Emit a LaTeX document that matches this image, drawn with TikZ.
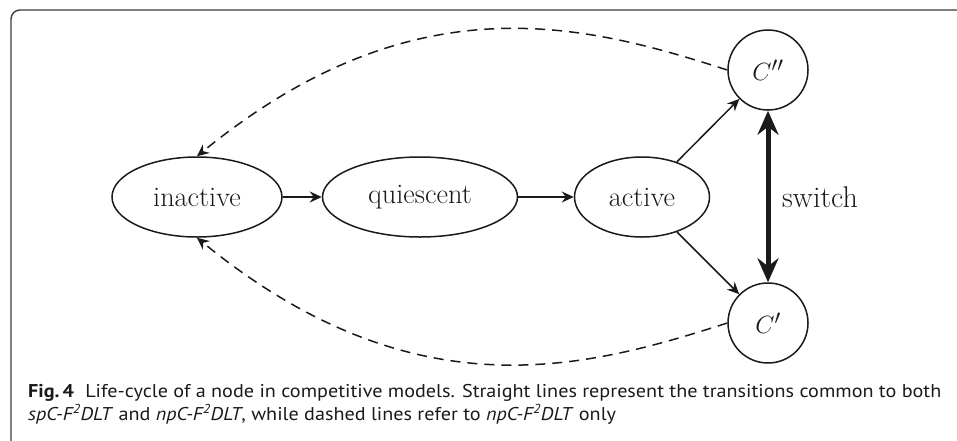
\documentclass[tikz,border=0pt]{standalone}
\usepackage{fontspec}
\newfontfamily\capfont{PT Sans}[FakeStretch=1.09]
\usetikzlibrary{arrows.meta,shapes.geometric}
\definecolor{ink}{HTML}{1A1A1A}
\tikzset{
  state/.style={ellipse,draw=ink,line width=1.5pt,inner sep=0pt,minimum height=80pt,
    font=\fontsize{28.3}{34}\selectfont,text=ink},
  cstate/.style={circle,draw=ink,line width=1.5pt,inner sep=0pt,minimum size=80pt,
    font=\fontsize{28.3}{34}\selectfont,text=ink},
  trans/.style={draw=ink,line width=1.5pt,-{Stealth[length=12pt,width=11pt,inset=4pt]}},
  back/.style={trans,dash pattern=on 10pt off 7pt},
  swt/.style={draw=ink,line width=5pt,{Stealth[length=24pt,width=21pt,inset=8pt]}-{Stealth[length=24pt,width=21pt,inset=8pt]}},
  capline/.style={anchor=base west,inner sep=0pt,font=\capfont\fontsize{18.5}{22}\selectfont,text=ink}
}
\begin{document}
\begin{tikzpicture}[x=1pt,y=-1pt]
\useasboundingbox (0,0) rectangle (957,440);
\clip (0,0) rectangle (957,440);
\draw[draw=ink!85,line width=1.4pt,rounded corners=9pt] (970,10) -- (11,10) -- (11,460);
\node[state,minimum width=170pt] (inactive) at (197,197) {inactive};
\node[state,minimum width=195pt] (quiescent) at (420,197) {quiescent};
\node[state,minimum width=135pt] (active) at (642,197) {active};
\node[cstate] (C2) at (768,70) {$C''$};
\node[cstate] (C1) at (768,323) {$C'$};
\draw[trans] (inactive) -- (quiescent);
\draw[trans] (quiescent) -- (active);
\draw[trans] (active) -- (C2);
\draw[trans] (active) -- (C1);
\draw[swt] (C2) -- (C1);
\node[anchor=base west,inner sep=0pt,font=\fontsize{30}{36}\selectfont,text=ink] (sw) at (782,207) {switch};
\draw[back] (C2.west) .. controls +(-143,-46) and +(217,-177) .. (inactive.north);
\draw[back] (C1.west) .. controls +(-143,46) and +(217,177) .. (inactive.south);
\node[capline] (cap1) at (28,397) {{\bfseries Fig.\,4}\hspace{0.6em}Life-cycle of a node in competitive models. Straight lines represent the transitions common to both};
\node[capline] (cap2) at (28,420) {\textit{spC-F\textsuperscript{2}DLT} and \textit{npC-F\textsuperscript{2}DLT}, while dashed lines refer to \textit{npC-F\textsuperscript{2}DLT} only};
\end{tikzpicture}
\end{document}
